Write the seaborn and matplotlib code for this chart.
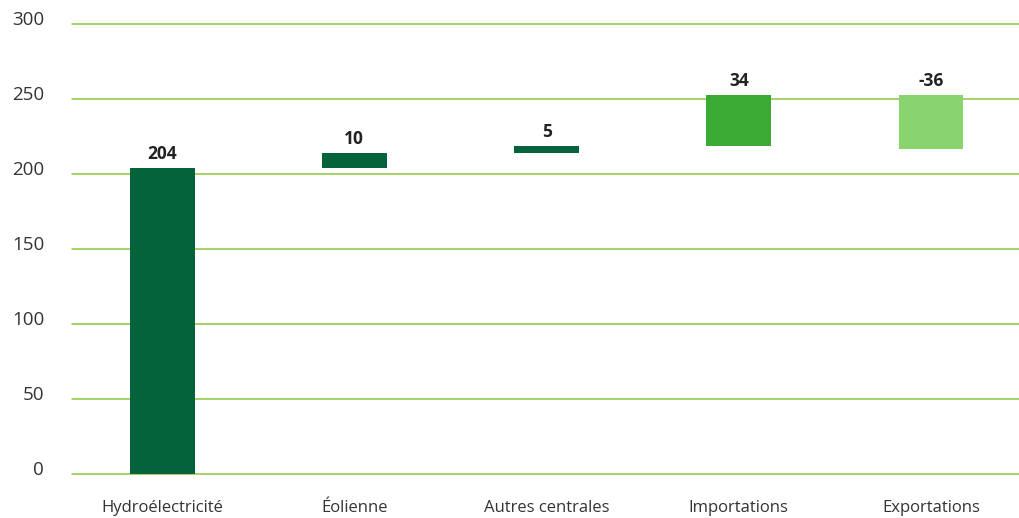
import matplotlib
matplotlib.use("Agg")
import matplotlib.pyplot as plt
import matplotlib.transforms as mtransforms
import seaborn as sns
import pandas as pd
import numpy as np

categories = ["Hydroélectricité", "Éolienne", "Autres centrales", "Importations", "Exportations"]
values = [204, 10, 5, 34, -36]
bar_colors = ["#04633b", "#04633b", "#04633b", "#3aaa35", "#89d46f"]
y_ticks = [0, 50, 100, 150, 200, 250, 300]

# waterfall bases
bottoms = []
run = 0
for v in values:
    bottoms.append(run)
    run += v

sns.set_theme(style="white")
plt.rcParams["font.family"] = ["Open Sans", "DejaVu Sans"]

fig = plt.figure(figsize=(10.2, 5.18), dpi=100)
ax = fig.add_axes([72 / 1020, 1 - 474 / 518, 1 - 72 / 1020, (474 - 24) / 518])

df = pd.DataFrame({"cat": categories, "val": values, "base": bottoms})
sns.barplot(data=df, x="cat", y="val", order=categories, bottom=df["base"].values,
            color=bar_colors[0], errorbar=None, width=0.338, ax=ax, zorder=3,
            linewidth=0)
for patch, c in zip(ax.patches, bar_colors):
    patch.set_facecolor(c)
    patch.set_edgecolor("none")

for i, (v, b) in enumerate(zip(values, bottoms)):
    top = max(b, b + v)
    ax.text(i, top + 3.3, f"{v}", ha="center", va="bottom", fontsize=12.5,
            fontweight="bold", color="#222222", zorder=4)

ax.set_ylim(0, 300)
ax.set_xlim(-0.469, 4.463)
ax.set_yticks(y_ticks)
ax.set_yticklabels([str(t) for t in y_ticks])
ax.yaxis.grid(True, color="#8dc63f", linewidth=1.1, zorder=0)
ax.xaxis.grid(False)
ax.set_axisbelow(True)
for s in ax.spines.values():
    s.set_visible(False)
ax.tick_params(axis="y", length=0, pad=20, labelsize=13.5, labelcolor="#333333")
ax.tick_params(axis="x", length=0, pad=19, labelsize=12, labelcolor="#333333")
ax.set_xlabel("")
ax.set_ylabel("")
for gl in ax.get_ygridlines():
    gl.set_clip_on(False)

offset = mtransforms.ScaledTranslation(0, 6 / 100, fig.dpi_scale_trans)
for lab in ax.get_yticklabels():
    lab.set_transform(lab.get_transform() + offset)

fig.savefig("out.png", dpi=100)
